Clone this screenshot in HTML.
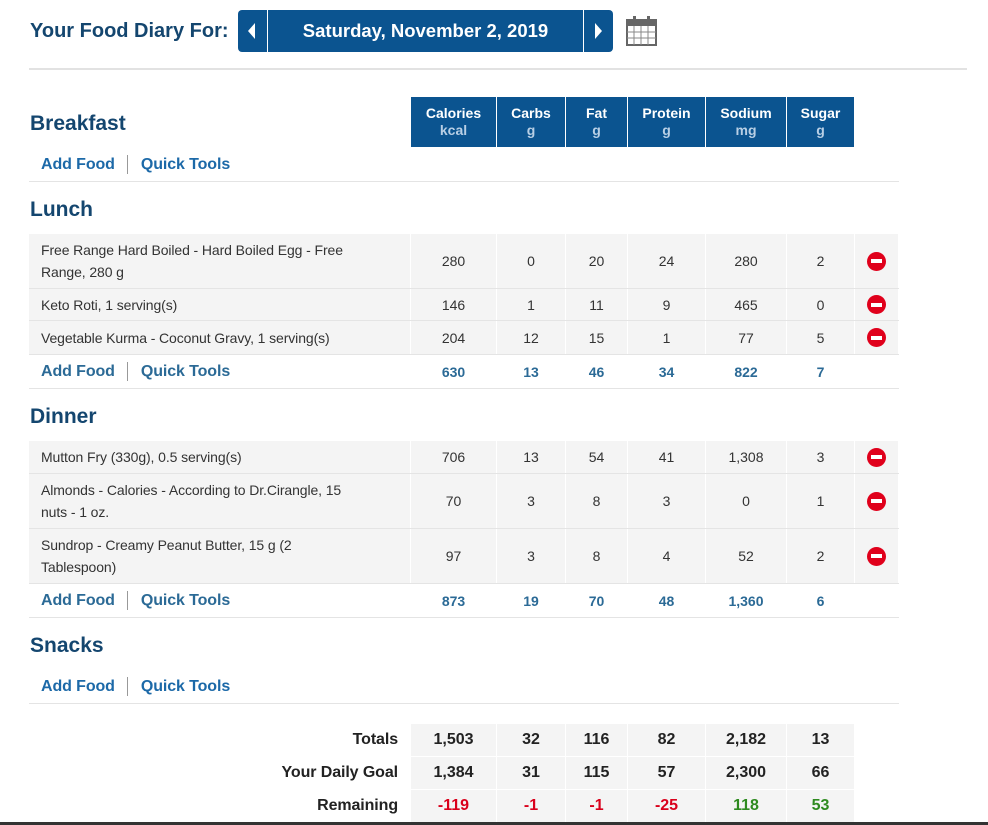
<!DOCTYPE html>
<html><head><meta charset="utf-8"><style>
*{margin:0;padding:0;box-sizing:border-box}
body{width:988px;height:825px;background:#fff;font-family:"Liberation Sans",Arial,sans-serif;position:relative;overflow:hidden;color:#333}
.a{position:absolute}
.title{left:30px;top:20px;font-size:20px;font-weight:bold;color:#14466f}
.btn{top:10px;height:42px;background:#0b5490;color:#fff;border-radius:4px}
.hr{left:29px;top:68px;width:938px;height:2px;background:#e2e2e2}
.row{position:absolute;left:29px;display:flex;font-size:14px}
.row>div{margin-right:1px;display:flex;align-items:center;justify-content:center;text-align:center}
.row>div:first-child{justify-content:flex-start;text-align:left;padding-left:12px;padding-right:28px;line-height:22px;letter-spacing:-0.1px}
.c0{width:381px}.c1{width:85px}.c2{width:68px}.c3{width:61px}.c4{width:77px}.c5{width:80px}.c6{width:67px}.c7{width:43px}
.food>div{background:#f4f4f4}
.food{border-bottom:1px solid #e4e4e4}
.tot{border-bottom:1px solid #e4e4e4}
.tot>div{color:#2b6a96;font-weight:bold}
.link{font-size:16px;font-weight:bold;color:#1c69a8}
.link span{display:inline-block;width:1px;height:19px;background:#999;vertical-align:middle;margin:0 13px 0 12px}
.sec{left:30px;font-size:21px;font-weight:bold;color:#14466f}
.del{width:19px;height:19px;border-radius:50%;background:#e0001b;position:relative}
.del:after{content:"";position:absolute;left:4px;top:7.5px;width:11px;height:4px;background:#fff}
.hdr{top:97px;height:50px}
.hdr>div{background:#0b5490;color:#fff;font-weight:bold;font-size:14px;flex-direction:column;line-height:17px}
.hdr>div small{font-size:14px;color:#b8cfe5}
.hdr>div.c0{background:transparent}
.gt{font-size:16px;font-weight:bold;color:#222}
.gt>div{background:#f4f4f4}
.gt>div:first-child{background:#fff;justify-content:flex-end;padding-right:12px}
</style></head><body>
<div class="a title">Your Food Diary For:</div>
<div class="a btn" style="left:238px;width:29px;border-radius:4px 0 0 4px"><svg width="29" height="42"><polygon points="17,13 10,21 17,29" fill="#fff"/></svg></div>
<div class="a btn" style="left:268px;width:315px;border-radius:0;text-align:center;line-height:42px;font-size:18.5px;font-weight:bold">Saturday, November 2, 2019</div>
<div class="a btn" style="left:584px;width:29px;border-radius:0 4px 4px 0"><svg width="29" height="42"><polygon points="11,13 18,21 11,29" fill="#fff"/></svg></div>
<svg class="a" style="left:626px;top:15px" width="32" height="32"><rect x="1" y="5" width="29" height="25" fill="#fff" stroke="#666" stroke-width="2"/><rect x="1" y="5" width="29" height="6" fill="#666"/><g stroke="#888" stroke-width="1"><line x1="1" y1="17" x2="30" y2="17"/><line x1="1" y1="23" x2="30" y2="23"/><line x1="8" y1="11" x2="8" y2="30"/><line x1="15" y1="11" x2="15" y2="30"/><line x1="22" y1="11" x2="22" y2="30"/></g><rect x="7" y="1" width="3" height="7" fill="#666"/><rect x="21" y="1" width="3" height="7" fill="#666"/></svg>
<div class="a hr"></div>

<div class="row hdr"><div class="c0"></div><div class="c1">Calories<small>kcal</small></div><div class="c2">Carbs<small>g</small></div><div class="c3">Fat<small>g</small></div><div class="c4">Protein<small>g</small></div><div class="c5">Sodium<small>mg</small></div><div class="c6">Sugar<small>g</small></div></div>
<div class="a sec" style="top:112px">Breakfast</div>
<div class="row" style="top:148px;height:34px;border-bottom:1px solid #e4e4e4"><div class="c0 link">Add Food<span></span>Quick Tools</div><div class="c1"></div><div class="c2"></div><div class="c3"></div><div class="c4"></div><div class="c5"></div><div class="c6"></div><div class="c7"></div></div>

<div class="a sec" style="top:198px">Lunch</div>
<div class="row food" style="top:234px;height:55px"><div class="c0">Free Range Hard Boiled - Hard Boiled Egg - Free Range, 280 g</div><div class="c1">280</div><div class="c2">0</div><div class="c3">20</div><div class="c4">24</div><div class="c5">280</div><div class="c6">2</div><div class="c7"><i class="del"></i></div></div>
<div class="row food" style="top:289px;height:32px"><div class="c0">Keto Roti, 1 serving(s)</div><div class="c1">146</div><div class="c2">1</div><div class="c3">11</div><div class="c4">9</div><div class="c5">465</div><div class="c6">0</div><div class="c7"><i class="del"></i></div></div>
<div class="row food" style="top:321px;height:34px"><div class="c0">Vegetable Kurma - Coconut Gravy, 1 serving(s)</div><div class="c1">204</div><div class="c2">12</div><div class="c3">15</div><div class="c4">1</div><div class="c5">77</div><div class="c6">5</div><div class="c7"><i class="del"></i></div></div>
<div class="row tot" style="top:355px;height:34px"><div class="c0 link">Add Food<span></span>Quick Tools</div><div class="c1">630</div><div class="c2">13</div><div class="c3">46</div><div class="c4">34</div><div class="c5">822</div><div class="c6">7</div><div class="c7"></div></div>

<div class="a sec" style="top:405px">Dinner</div>
<div class="row food" style="top:441px;height:33px"><div class="c0">Mutton Fry (330g), 0.5 serving(s)</div><div class="c1">706</div><div class="c2">13</div><div class="c3">54</div><div class="c4">41</div><div class="c5">1,308</div><div class="c6">3</div><div class="c7"><i class="del"></i></div></div>
<div class="row food" style="top:474px;height:55px"><div class="c0">Almonds - Calories - According to Dr.Cirangle, 15<br>nuts - 1 oz.</div><div class="c1">70</div><div class="c2">3</div><div class="c3">8</div><div class="c4">3</div><div class="c5">0</div><div class="c6">1</div><div class="c7"><i class="del"></i></div></div>
<div class="row food" style="top:529px;height:55px"><div class="c0">Sundrop - Creamy Peanut Butter, 15 g (2<br>Tablespoon)</div><div class="c1">97</div><div class="c2">3</div><div class="c3">8</div><div class="c4">4</div><div class="c5">52</div><div class="c6">2</div><div class="c7"><i class="del"></i></div></div>
<div class="row tot" style="top:584px;height:34px"><div class="c0 link">Add Food<span></span>Quick Tools</div><div class="c1">873</div><div class="c2">19</div><div class="c3">70</div><div class="c4">48</div><div class="c5">1,360</div><div class="c6">6</div><div class="c7"></div></div>

<div class="a sec" style="top:634px">Snacks</div>
<div class="row" style="top:670px;height:34px;border-bottom:1px solid #e4e4e4"><div class="c0 link">Add Food<span></span>Quick Tools</div><div class="c1"></div><div class="c2"></div><div class="c3"></div><div class="c4"></div><div class="c5"></div><div class="c6"></div><div class="c7"></div></div>

<div class="row gt" style="top:724px;height:32px"><div class="c0">Totals</div><div class="c1">1,503</div><div class="c2">32</div><div class="c3">116</div><div class="c4">82</div><div class="c5">2,182</div><div class="c6">13</div></div>
<div class="row gt" style="top:757px;height:32px"><div class="c0">Your Daily Goal</div><div class="c1">1,384</div><div class="c2">31</div><div class="c3">115</div><div class="c4">57</div><div class="c5">2,300</div><div class="c6">66</div></div>
<div class="row gt" style="top:790px;height:32px"><div class="c0">Remaining</div><div class="c1" style="color:#d9001b">-119</div><div class="c2" style="color:#d9001b">-1</div><div class="c3" style="color:#d9001b">-1</div><div class="c4" style="color:#d9001b">-25</div><div class="c5" style="color:#2e8a1f">118</div><div class="c6" style="color:#2e8a1f">53</div></div>
<div class="a" style="left:0;top:822px;width:988px;height:3px;background:#333"></div>
</body></html>
